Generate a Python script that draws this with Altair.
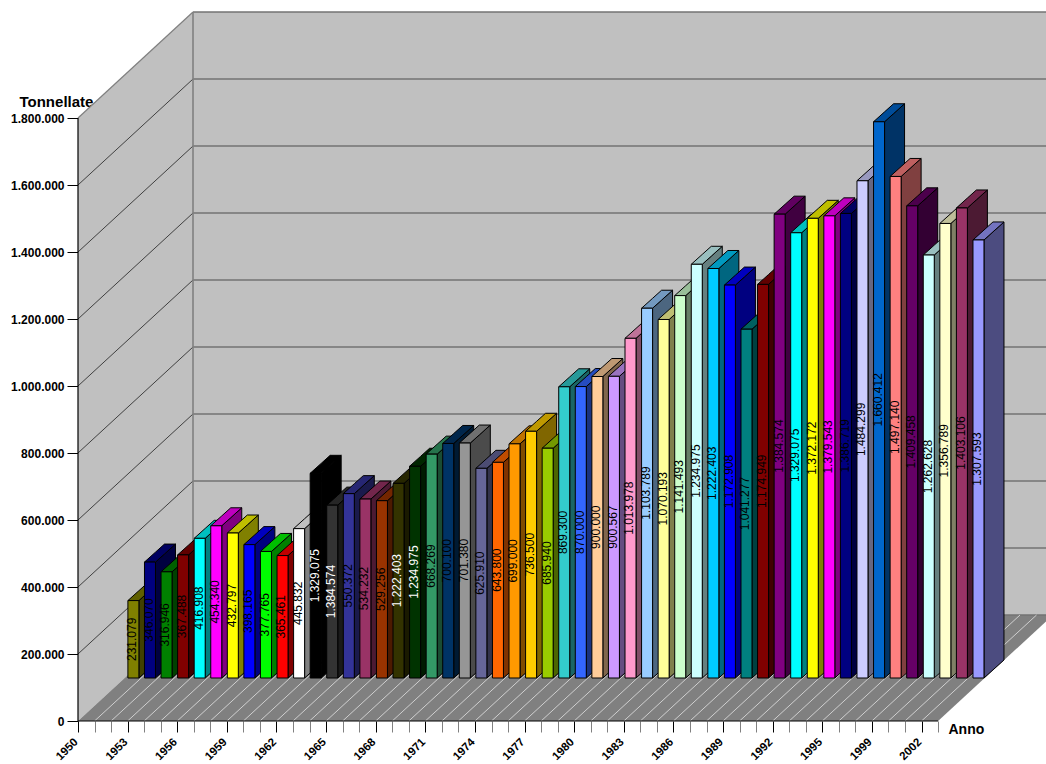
import altair as alt
import pandas as pd

# Printed value labels, one per bar, in the chart's own thousands notation
value_labels = [
    "231.079", "346.070", "316.946", "367.488", "416.908", "454.340", "432.797", "398.165",
    "377.765", "365.461", "445.832", "1.329.075", "1.384.574", "550.372", "534.232", "529.256",
    "1.222.403", "1.234.975", "668.269", "700.100", "701.380", "625.910", "643.800", "699.000",
    "736.500", "685.940", "869.300", "870.000", "900.000", "900.567", "1.013.978", "1.103.789",
    "1.070.193", "1.141.493", "1.234.975", "1.222.403", "1.172.908", "1.041.277", "1.174.949",
    "1.384.574", "1.329.075", "1.372.172", "1.379.543", "1.386.719", "1.484.299", "1.660.412",
    "1.497.140", "1.409.458", "1.262.628", "1.356.789", "1.403.106", "1.307.593",
]
# Bar heights in tonnes; four bars stand lower than the label printed on them
bar_tons = [
    231079, 346070, 316946, 367488, 416908, 454340, 432797, 398165,
    377765, 365461, 445832, 611000, 516000, 550372, 534232, 529256,
    581000, 632000, 668269, 700100, 701380, 625910, 643800, 699000,
    736500, 685940, 869300, 870000, 900000, 900567, 1013978, 1103789,
    1070193, 1141493, 1234975, 1222403, 1172908, 1041277, 1174949,
    1384574, 1329075, 1372172, 1379543, 1386719, 1484299, 1660412,
    1497140, 1409458, 1262628, 1356789, 1403106, 1307593,
]
bar_colors = [
    "#808000", "#000080", "#008000", "#800000", "#00FFFF", "#FF00FF", "#FFFF00", "#0000FF",
    "#00FF00", "#FF0000", "#FFFFFF", "#000000", "#333333", "#333399", "#993366", "#993300",
    "#333300", "#003300", "#339966", "#003366", "#969696", "#666699", "#FF6600", "#FF9900",
    "#FFCC00", "#99CC00", "#33CCCC", "#3366FF", "#FFCC99", "#CC99FF", "#FF99CC", "#99CCFF",
    "#FFFF99", "#CCFFCC", "#CCFFFF", "#00CCFF", "#0000FF", "#008080", "#800000", "#800080",
    "#00FFFF", "#FFFF00", "#FF00FF", "#000080", "#CCCCFF", "#0066CC", "#FF8080", "#660066",
    "#CCFFFF", "#FFFFCC", "#993366", "#9999FF",
]
white_label_bars = [11, 12, 16, 17]
tick_years = {0: "1950", 3: "1953", 6: "1956", 9: "1959", 12: "1962", 15: "1965", 18: "1968",
              21: "1971", 24: "1974", 27: "1977", 30: "1980", 33: "1983", 36: "1986", 39: "1989",
              42: "1992", 45: "1995", 48: "1999", 51: "2002"}
y_ticks = [0, 200000, 400000, 600000, 800000, 1000000, 1200000, 1400000, 1600000, 1800000]

# Drawing box and projection of the pseudo-3D box
PLOT_W, PLOT_H = 968, 721
CATEGORY_PX = 16.54
PX_PER_TON = 603 / 1800000
N_CATS = 52
X_MAX = PLOT_W / CATEGORY_PX
Y_MAX = PLOT_H / PX_PER_TON


def ux(px):
    return px / CATEGORY_PX


def uy(px):
    return px / PX_PER_TON


BOX_DX, BOX_DY = ux(115), uy(106)      # floor depth
ROW_DX, ROW_DY = ux(46.6), uy(43)      # where the row of bars stands on the floor
BAR_DX, BAR_DY = ux(20), uy(18)        # depth of one bar
BAR_W = ux(11)
BAR_MARGIN = ux(3.3)
BAR_STEP = ux(16.57)
TOP_TON = y_ticks[-1]


def shade(hex_color, k):
    rgb = [int(hex_color[i:i + 2], 16) for i in (1, 3, 5)]
    return "#" + "".join(f"{round(c * k):02X}" for c in rgb)


def slanted(x0, x1, base, dx, dy):
    """Rows (x, y, y2) for the parallelogram (x0..x1, base) sheared by (dx, dy)."""
    slope = dy / dx
    xs = sorted({x0, x1, x0 + dx, x1 + dx})
    rows = []
    for x in xs:
        upper = base + min(x - x0, dx) * slope
        lower = base + max(x - x1, 0) * slope
        rows.append((x, lower, upper))
    return rows


def side_face(x, base, height, dx, dy):
    """Rows for the side wall of a box, rising from (x, base) to (x + dx, base + dy)."""
    return [(x, base, base + height), (x + dx, base + dy, base + dy + height)]


polys = []


def add_poly(rows, fill):
    pid = len(polys) and polys[-1]["poly"] + 1
    for x, y, y2 in rows:
        polys.append({"poly": pid, "x": x, "y": y, "y2": y2, "fill": fill})


# Each bar is painted left to right: side, top, then front face
label_rows = []
for i, (tons, color) in enumerate(zip(bar_tons, bar_colors)):
    left = ROW_DX + BAR_MARGIN + i * BAR_STEP
    base = ROW_DY
    right = left + BAR_W
    add_poly(side_face(right, base, tons, BAR_DX, BAR_DY), shade(color, 0.5))
    add_poly(slanted(left, right, base + tons, BAR_DX, BAR_DY), shade(color, 0.75))
    add_poly([(left, base, base + tons), (right, base, base + tons)], color)
    label_rows.append({
        "x": left + ux(4.4),
        "y": base + tons / 2,
        "label": value_labels[i],
        "ink": "#FFFFFF" if i in white_label_bars else "#000000",
    })
bars = pd.DataFrame(polys)
labels = pd.DataFrame(label_rows)

# Walls and floor of the box
wall_rows = []
for pid, (rows, fill) in enumerate([
    (side_face(0, 0, TOP_TON, BOX_DX, BOX_DY), "#C0C0C0"),
    ([(BOX_DX, BOX_DY, BOX_DY + TOP_TON), (X_MAX, BOX_DY, BOX_DY + TOP_TON)], "#C0C0C0"),
    (slanted(0, N_CATS, 0, BOX_DX, BOX_DY), "#808080"),
]):
    wall_rows += [{"poly": pid, "x": x, "y": y, "y2": y2, "fill": fill} for x, y, y2 in rows]
walls = pd.DataFrame(wall_rows)

# Grid lines on the walls, hatching on the floor and the box edges
line_rows = []


def add_line(points, ink, width):
    pid = len(line_rows) and line_rows[-1]["line"] + 1
    for x, y in points:
        line_rows.append({"line": pid, "x": x, "y": y, "ink": ink, "w": width})


for t in y_ticks[1:]:
    top = t == TOP_TON
    add_line([(0, t), (BOX_DX, t + BOX_DY)], "#808080" if top else "#404040", 1.2 if top else 1)
for t in y_ticks:
    add_line([(BOX_DX, t + BOX_DY), (X_MAX, t + BOX_DY)], "#737373", 1.6)
add_line([(BOX_DX, BOX_DY), (BOX_DX, BOX_DY + TOP_TON)], "#808080", 1.6)
for c in range(1, N_CATS):
    add_line([(c, 0), (c + BOX_DX, BOX_DY)], "#CFCFCF", 1)
lines = pd.DataFrame(line_rows)

frame_rows = [
    {"line": 0, "x": 0, "y": 0}, {"line": 0, "x": 0, "y": TOP_TON},
    {"line": 1, "x": 0, "y": 0}, {"line": 1, "x": N_CATS, "y": 0},
]
frame = pd.DataFrame(frame_rows)

x_scale = alt.Scale(domain=[0, X_MAX], nice=False, zero=False)
y_scale = alt.Scale(domain=[0, Y_MAX], nice=False, zero=False)

year_lookup = "{" + ",".join(f'"{k}":"{v}"' for k, v in tick_years.items()) + "}"
x_axis = alt.Axis(
    values=list(range(N_CATS + 1)), tickCount=200, title="Anno", domain=False, grid=False,
    tickSize=11, tickWidth=1,
    tickColor=alt.condition("datum.value % 3 == 0", alt.value("#000000"), alt.value("#808080")),
    labelExpr=f"{year_lookup}[datum.value] || ''", labelOverlap=False, labelFlush=False,
    labelAngle=-45, labelAlign="right", labelBaseline="middle", labelPadding=8, labelOffset=-2,
    labelFont="Liberation Sans", labelFontSize=11.5, labelFontWeight="bold", labelColor="#000000",
    titleFont="Liberation Sans", titleFontSize=14, titleFontWeight="bold", titleColor="#000000",
    titleAngle=0, titleAlign="left", titleBaseline="middle", titleX=870, titleY=8,
)
y_axis = alt.Axis(
    values=y_ticks, tickCount=200, title="Tonnellate", domain=False, grid=False,
    tickSize=11, tickWidth=1, tickColor="#000000",
    labelExpr="replace(format(datum.value, ','), /,/g, '.')",
    labelPadding=3, labelOverlap=False, labelFlush=False,
    labelFont="Liberation Sans", labelFontSize=12, labelFontWeight="bold", labelColor="#000000",
    titleFont="Liberation Sans", titleFontSize=15, titleFontWeight="bold", titleColor="#000000",
    titleAngle=0, titleAlign="left", titleBaseline="middle", titleX=-59, titleY=101,
)

wall_layer = alt.Chart(walls).mark_area(interpolate="linear").encode(
    x=alt.X("x:Q", scale=x_scale, axis=x_axis),
    y=alt.Y("y:Q", scale=y_scale, axis=y_axis),
    y2="y2:Q",
    fill=alt.Fill("fill:N", scale=None),
    detail="poly:N",
)
line_layer = alt.Chart(lines).mark_line(interpolate="linear").encode(
    x=alt.X("x:Q", scale=x_scale),
    y=alt.Y("y:Q", scale=y_scale),
    color=alt.Color("ink:N", scale=None),
    strokeWidth=alt.StrokeWidth("w:Q", scale=None),
    detail="line:N",
)
frame_layer = alt.Chart(frame).mark_line(color="#000000", strokeWidth=1.2).encode(
    x=alt.X("x:Q", scale=x_scale),
    y=alt.Y("y:Q", scale=y_scale),
    detail="line:N",
)
bar_layer = alt.Chart(bars).mark_area(
    interpolate="linear", stroke="#000000", strokeWidth=1, strokeJoin="miter"
).encode(
    x=alt.X("x:Q", scale=x_scale),
    y=alt.Y("y:Q", scale=y_scale),
    y2="y2:Q",
    fill=alt.Fill("fill:N", scale=None),
    detail="poly:N",
)
label_layer = alt.Chart(labels).mark_text(
    angle=270, align="center", baseline="middle", font="Liberation Sans", fontSize=12
).encode(
    x=alt.X("x:Q", scale=x_scale),
    y=alt.Y("y:Q", scale=y_scale),
    text="label:N",
    color=alt.Color("ink:N", scale=None),
)

chart = alt.layer(wall_layer, line_layer, frame_layer, bar_layer, label_layer).properties(
    width=PLOT_W,
    height=PLOT_H,
    padding={"left": 78, "top": 0, "right": 0, "bottom": 42},
    autosize=alt.AutoSizeParams(type="none"),
    background="#FFFFFF",
).configure_view(stroke=None)

chart.save("out.html", embed_options={"renderer": "svg", "actions": False})
